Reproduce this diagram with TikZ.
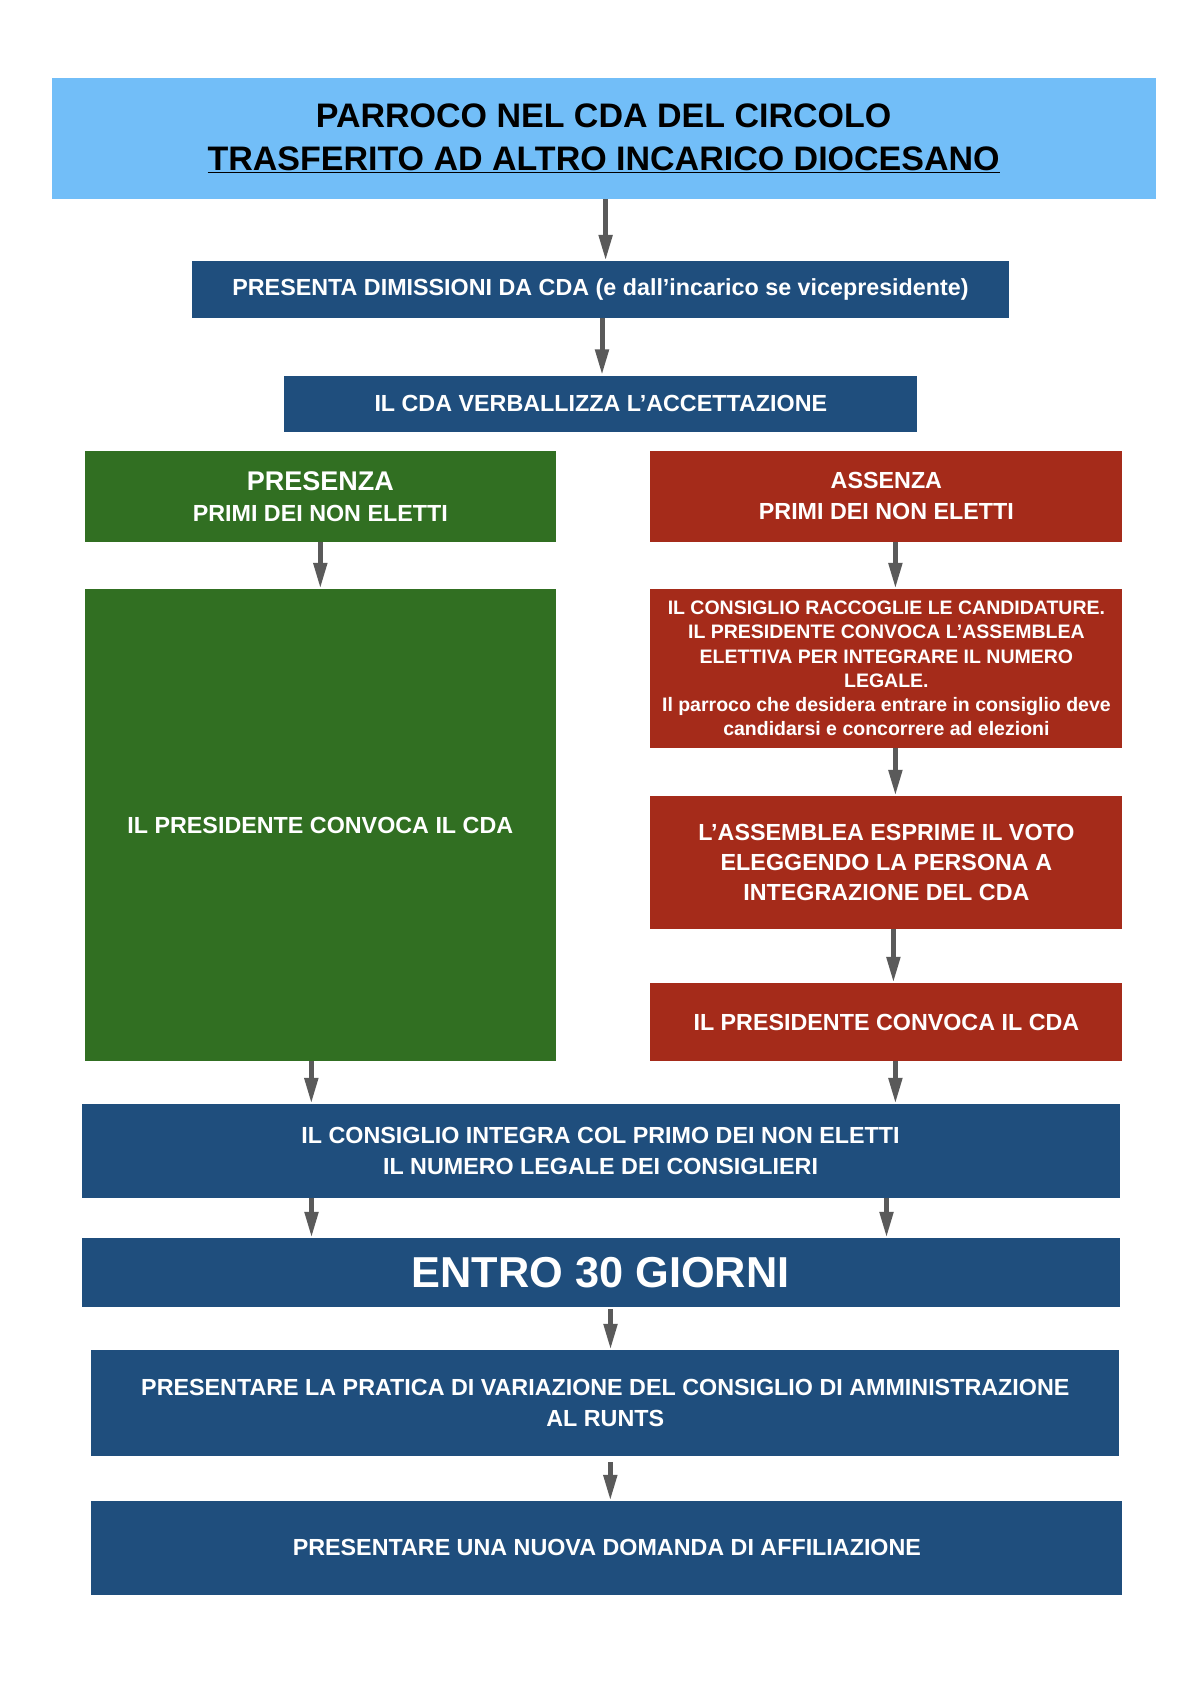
\documentclass[tikz,border=0pt]{standalone}
\usepackage{fontspec}
\setmainfont{Liberation Sans}
\usetikzlibrary{arrows.meta,positioning}

\definecolor{titleblue}{RGB}{114,190,248}
\definecolor{darkblue}{RGB}{31,78,125}
\definecolor{darkgreen}{RGB}{49,111,34}
\definecolor{darkred}{RGB}{165,43,26}
\definecolor{arrowgray}{RGB}{90,90,90}

\tikzset{
    box/.style={rectangle, inner sep=0pt, align=center, text=white,
        font=\bfseries\fontsize{23.3}{31}\selectfont},
    bluebox/.style={box, fill=darkblue},
    greenbox/.style={box, fill=darkgreen},
    redbox/.style={box, fill=darkred},
    freccia/.style={draw=arrowgray, line width=5pt,
        -{Triangle[length=26pt, width=13pt]}},
}

\begin{document}
\begin{tikzpicture}[x=1pt, y=-1pt]

    % --- Page ---
    \useasboundingbox[fill=white] (0,0) rectangle (1190,1683);

    % --- Title ---
    \node[box, fill=titleblue, text=black, minimum width=1104pt, minimum height=121pt,
        font=\bfseries\fontsize{34}{43}\selectfont] (title) at (603.6,138.5)
        {PARROCO NEL CDA DEL CIRCOLO\\ \underline{TRASFERITO AD ALTRO INCARICO DIOCESANO}};

    % --- Common steps ---
    \node[bluebox, minimum width=817pt, minimum height=57pt] (dimiss) at (600.5,289.5)
        {PRESENTA DIMISSIONI DA CDA (e dall’incarico se vicepresidente)};
    \node[bluebox, minimum width=633pt, minimum height=56pt] (verb) at (600.8,403.5)
        {IL CDA VERBALLIZZA L’ACCETTAZIONE};

    % --- Left branch ---
    \node[greenbox, minimum width=471pt, minimum height=91pt] (pres) at (320.3,496.3)
        {{\fontsize{27}{31}\selectfont PRESENZA}\\PRIMI DEI NON ELETTI};
    \node[greenbox, minimum width=471pt, minimum height=472pt] (convG) at (320.3,825)
        {IL PRESIDENTE CONVOCA IL CDA};

    % --- Right branch ---
    \node[redbox, minimum width=472pt, minimum height=91pt] (ass) at (886.4,496.3)
        {ASSENZA\\PRIMI DEI NON ELETTI};
    \node[redbox, minimum width=472pt, minimum height=159pt,
        font=\bfseries\fontsize{19.5}{24.3}\selectfont] (racc) at (886.4,668.5)
        {IL CONSIGLIO RACCOGLIE LE CANDIDATURE.\\
         IL PRESIDENTE CONVOCA L’ASSEMBLEA\\
         ELETTIVA PER INTEGRARE IL NUMERO\\
         LEGALE.\\
         Il parroco che desidera entrare in consiglio deve\\
         candidarsi e concorrere ad elezioni};
    \node[redbox, minimum width=472pt, minimum height=133pt,
        font=\bfseries\fontsize{23.3}{30}\selectfont] (voto) at (886.4,862.5)
        {L’ASSEMBLEA ESPRIME IL VOTO\\ELEGGENDO LA PERSONA A\\INTEGRAZIONE DEL CDA};
    \node[redbox, minimum width=472pt, minimum height=78pt] (convR) at (886.4,1022)
        {IL PRESIDENTE CONVOCA IL CDA};

    % --- Final steps ---
    \node[bluebox, minimum width=1038pt, minimum height=93.6pt] (integra) at (600.5,1150.8)
        {IL CONSIGLIO INTEGRA COL PRIMO DEI NON ELETTI\\IL NUMERO LEGALE DEI CONSIGLIERI};
    \node[bluebox, minimum width=1038pt, minimum height=69pt,
        font=\bfseries\fontsize{43.3}{46}\selectfont] (entro) at (600.5,1272.5)
        {ENTRO 30 GIORNI};
    \node[bluebox, minimum width=1028pt, minimum height=106pt] (pratica) at (605.3,1403)
        {PRESENTARE LA PRATICA DI VARIAZIONE DEL CONSIGLIO DI AMMINISTRAZIONE\\AL RUNTS};
    \node[bluebox, minimum width=1031pt, minimum height=93.6pt] (affil) at (606.9,1547.8)
        {PRESENTARE UNA NUOVA DOMANDA DI AFFILIAZIONE};

    % --- Arrows ---
    \draw[freccia] ([xshift=2pt]title.south) -- ([xshift=2pt]title.south |- dimiss.north);
    \draw[freccia] ([xshift=1.5pt]dimiss.south) -- ([xshift=1.5pt]dimiss.south |- verb.north);
    \draw[freccia] (pres.south) -- (convG.north);
    \draw[freccia] ([xshift=9pt]ass.south) -- ([xshift=9pt]racc.north);
    \draw[freccia] ([xshift=9pt]racc.south) -- ([xshift=9pt]voto.north);
    \draw[freccia] ([xshift=7pt]voto.south) -- ([xshift=7pt]convR.north);
    \draw[freccia] ([xshift=-9pt]convG.south) -- ([xshift=-9pt]convG.south |- integra.north);
    \draw[freccia] ([xshift=9pt]convR.south) -- ([xshift=9pt]convR.south |- integra.north);
    \draw[freccia] ([xshift=-289pt]integra.south) -- ([xshift=-289pt]integra.south |- entro.north);
    \draw[freccia] ([xshift=286pt]integra.south) -- ([xshift=286pt]integra.south |- entro.north);
    \draw[freccia] ([xshift=10pt, yshift=-2pt]entro.south) -- ([xshift=10pt]entro.south |- pratica.north);
    \draw[freccia] ([xshift=5pt, yshift=-6pt]pratica.south) -- ([xshift=5pt]pratica.south |- affil.north);

\end{tikzpicture}
\end{document}
